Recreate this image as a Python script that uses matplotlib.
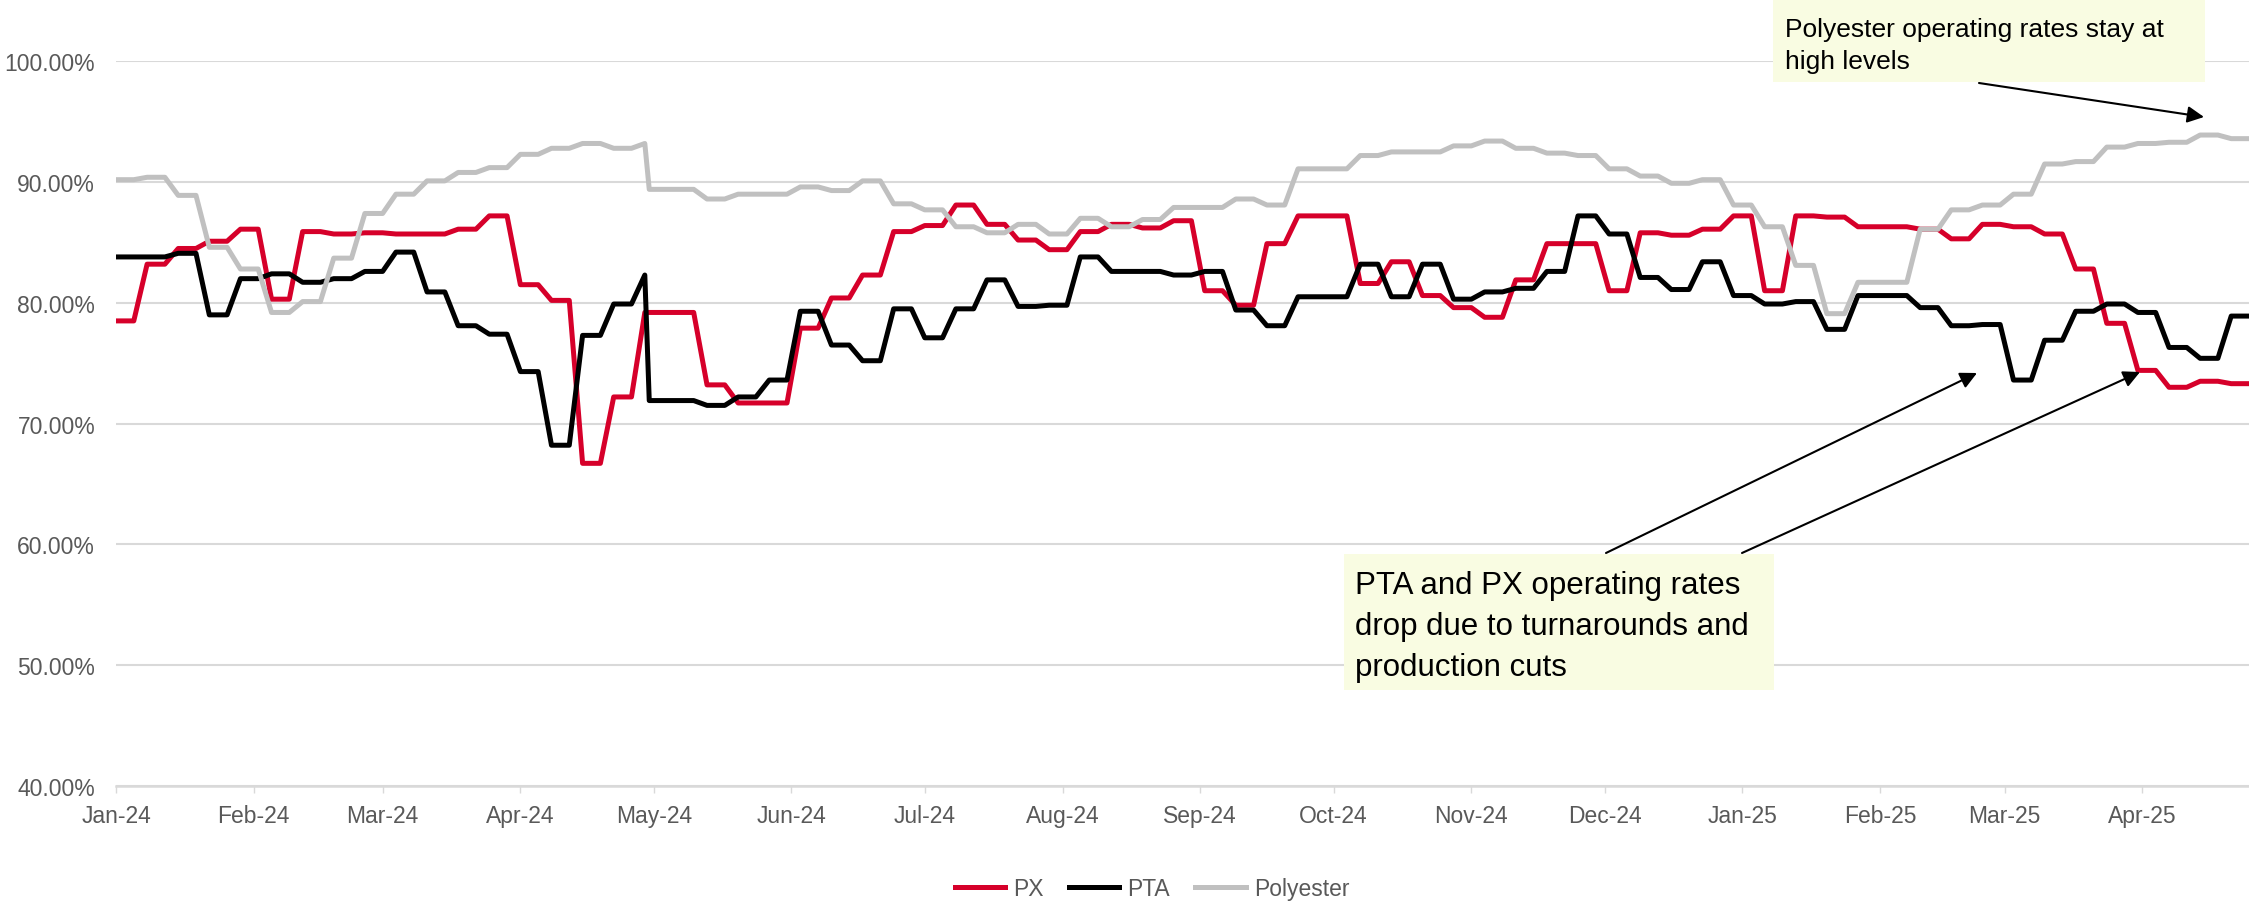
import matplotlib
matplotlib.use("Agg")
import matplotlib.pyplot as plt
import matplotlib.dates as mdates
from matplotlib.ticker import PercentFormatter, MultipleLocator
from matplotlib.patches import Rectangle
import pandas as pd

plt.rcParams['font.family'] = ['Liberation Sans', 'DejaVu Sans']

W, H = 2249, 904  # output size in pixels

# weekly operating rates (%), one value per week starting Monday 2024-01-01
week_start = pd.date_range('2024-01-01', periods=69, freq='W-MON')
px = [78.5, 83.2, 84.5, 85.1, 86.1, 80.3, 85.9, 85.7, 85.8, 85.7,
      85.7, 86.1, 87.2, 81.5, 80.2, 66.7, 72.2, 79.2, 79.2, 73.2,
      71.7, 71.7, 77.9, 80.4, 82.3, 85.9, 86.4, 88.1, 86.5, 85.2,
      84.4, 85.9, 86.5, 86.2, 86.8, 81.0, 79.8, 84.9, 87.2, 87.2,
      81.6, 83.4, 80.6, 79.6, 78.8, 81.9, 84.9, 84.9, 81.0, 85.8,
      85.6, 86.1, 87.2, 81.0, 87.2, 87.1, 86.3, 86.3, 86.1, 85.3,
      86.5, 86.3, 85.7, 82.8, 78.3, 74.4, 73.0, 73.5, 73.3]
pta = [83.8, 83.8, 84.1, 79.0, 82.0, 82.4, 81.7, 82.0, 82.6, 84.2,
       80.9, 78.1, 77.4, 74.3, 68.2, 77.3, 79.9, 82.3, 71.9, 71.5,
       72.2, 73.6, 79.3, 76.5, 75.2, 79.5, 77.1, 79.5, 81.9, 79.7,
       79.8, 83.8, 82.6, 82.6, 82.3, 82.6, 79.4, 78.1, 80.5, 80.5,
       83.2, 80.5, 83.2, 80.3, 80.9, 81.2, 82.6, 87.2, 85.7, 82.1,
       81.1, 83.4, 80.6, 79.9, 80.1, 77.8, 80.6, 80.6, 79.6, 78.1,
       78.2, 73.6, 76.9, 79.3, 79.9, 79.2, 76.3, 75.4, 78.9]
polyester = [90.2, 90.4, 88.9, 84.6, 82.8, 79.2, 80.1, 83.7, 87.4, 89.0,
             90.1, 90.8, 91.2, 92.3, 92.8, 93.2, 92.8, 93.2, 89.4, 88.6,
             89.0, 89.0, 89.6, 89.3, 90.1, 88.2, 87.7, 86.3, 85.8, 86.5,
             85.7, 87.0, 86.3, 86.9, 87.9, 87.9, 88.6, 88.1, 91.1, 91.1,
             92.2, 92.5, 92.5, 93.0, 93.4, 92.8, 92.4, 92.2, 91.1, 90.5,
             89.9, 90.2, 88.1, 86.3, 83.1, 79.1, 81.7, 81.7, 86.1, 87.7,
             88.1, 89.0, 91.5, 91.7, 92.9, 93.2, 93.3, 93.9, 93.6]

# mid-week update before the May Day holiday
extra_date = pd.Timestamp('2024-04-30')
extra_px, extra_pta, extra_polyester = 79.2, 71.9, 89.4
end_date = pd.Timestamp('2025-04-25')

series = ['PX', 'PTA', 'Polyester']
colors = {'PX': '#d6002a', 'PTA': '#000000', 'Polyester': '#c0c0c0'}

df = pd.DataFrame({'PX': px, 'PTA': pta, 'Polyester': polyester}, index=week_start)
df.loc[extra_date] = [extra_px, extra_pta, extra_polyester]
df = df.sort_index()
# values are held through the working days of each week
daily = df.reindex(pd.bdate_range(week_start[0], end_date), method='ffill')

GRID = '#d9d9d9'
TXT = '#595959'

fig = plt.figure(figsize=(W / 100, H / 100), dpi=100)
ax = fig.add_axes([116 / W, 1 - 786.6 / H, 1 - 116 / W, (786.6 - 62.4) / H])

for name in series:
    ax.plot(daily.index, daily[name], color=colors[name], lw=3.6, label=name)

ax.set_xlim(week_start[0], end_date)
ax.set_ylim(40, 100)
ax.yaxis.set_major_locator(MultipleLocator(10))
ax.yaxis.set_major_formatter(PercentFormatter(xmax=100, decimals=2))
ax.xaxis.set_major_locator(mdates.MonthLocator())
ax.xaxis.set_major_formatter(mdates.DateFormatter('%b-%y'))

ax.grid(axis='y', color=GRID, lw=1.5)
ax.set_axisbelow(True)
for side in ['top', 'right', 'left']:
    ax.spines[side].set_visible(False)
ax.spines['bottom'].set_color(GRID)
ax.spines['bottom'].set_linewidth(1.8)
ax.tick_params(axis='y', length=0, pad=15, labelsize=16.5, labelcolor=TXT)
ax.tick_params(axis='x', length=5, width=1, color=GRID, pad=8,
               labelsize=16.5, labelcolor=TXT)

fig.legend(loc='center', bbox_to_anchor=(1152 / W, 1 - 890 / H), ncol=3,
           frameon=False, fontsize=16.5, handlelength=2.2, handletextpad=0.35,
           columnspacing=1.1, labelcolor=TXT)


def ff(x, y):
    # full-size pixel position -> figure fraction
    return x / W, 1 - y / H


BOX = '#f9fce2'

# Box 1: polyester
fig.add_artist(Rectangle(ff(1773, 83), (2205 - 1773) / W, 90 / H,
                         transform=fig.transFigure, facecolor=BOX,
                         edgecolor='none', zorder=2))
for line, yb in [("Polyester operating rates stay at", 36.5),
                 ("high levels", 68.5)]:
    fig.text(*ff(1785, yb), line, fontsize=19, va='baseline', ha='left',
             color='black', zorder=3)
ax.annotate('', xy=ff(2204, 118), xycoords='figure fraction',
            xytext=ff(1979, 84), textcoords='figure fraction',
            arrowprops=dict(arrowstyle='-|>', color='black', lw=1.5,
                            mutation_scale=25, shrinkA=0, shrinkB=0),
            annotation_clip=False, zorder=6)

# Box 2: PTA and PX
fig.add_artist(Rectangle(ff(1344, 691), (1774 - 1344) / W, (691 - 555) / H,
                         transform=fig.transFigure, facecolor=BOX,
                         edgecolor='none', zorder=2))
for line, yb in [("PTA and PX operating rates", 594),
                 ("drop due to turnarounds and", 635),
                 ("production cuts", 676)]:
    fig.text(*ff(1355, yb), line, fontsize=22.5, va='baseline', ha='left',
             color='black', zorder=3)
for start, tip in [((1606, 554), (1977, 374)), ((1742, 554), (2140, 373))]:
    ax.annotate('', xy=ff(*tip), xycoords='figure fraction',
                xytext=ff(*start), textcoords='figure fraction',
                arrowprops=dict(arrowstyle='-|>', color='black', lw=1.5,
                                mutation_scale=25, shrinkA=0, shrinkB=0),
                annotation_clip=False, zorder=6)

fig.savefig('out.png', dpi=100)
